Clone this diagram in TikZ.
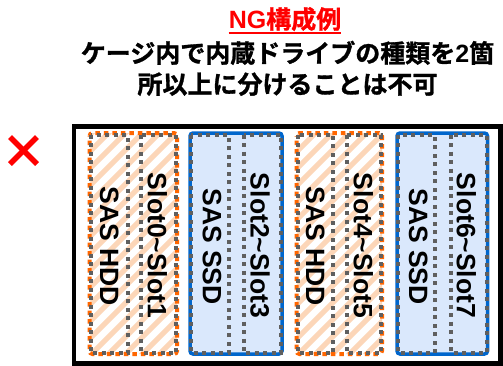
\documentclass[tikz,border=0pt]{standalone}
\usepackage{fontspec}
\setmainfont{Liberation Sans}
\newfontfamily\lat{Liberation Sans}
\newfontfamily\jpfont{Noto Sans CJK JP Bold}[FakeBold=1.2]
\definecolor{slotgray}{RGB}{95,95,95}
\definecolor{hddorange}{RGB}{255,102,0}
\definecolor{hatchcol}{RGB}{252,214,184}
\definecolor{ssdblue}{RGB}{0,102,204}
\definecolor{ssdfill}{RGB}{218,232,252}
\begin{document}
\begin{tikzpicture}[x=1bp,y=-1bp,
  slotbox/.style={draw=slotgray, line width=4bp, dash pattern=on 4bp off 4.5bp},
  hddbox/.style={draw=hddorange, line width=4bp, dash pattern=on 4.5bp off 4bp, dash phase=4bp, rounded corners=3bp},
  ssdbox/.style={draw=ssdblue, fill=ssdfill, line width=3.5bp, rounded corners=3bp},
  hatch/.style={draw=hatchcol, line width=5bp},
  lbl/.style={font=\fontsize{26.5bp}{30bp}\selectfont\bfseries, rotate=-90, inner sep=0pt},
  jptxt/.style={font=\fontsize{25bp}{30bp}\selectfont\jpfont, anchor=base, inner sep=0pt}
]
\useasboundingbox (0,0) rectangle (503,365);
\fill[white] (0,0) rectangle (503,365);

% title
\node[jptxt, text=red] (title) at (285,28.5) {{\lat\bfseries NG}構成例};
\draw[red, line width=2bp] ([yshift=-4.5bp]title.base west) -- ([yshift=-4.5bp]title.base east);
\node[jptxt] (line2) at (287.5,62.5) {ケージ内で内蔵ドライブの種類を{\lat\bfseries 2}箇};
\node[jptxt] (line3) at (287.5,93.5) {所以上に分けることは不可};

% red cross
\draw[red, line width=5.5bp] (10,137) -- (37,164);
\draw[red, line width=5.5bp] (37,137) -- (10,164);

% outer cage
\draw[line width=4.5bp] (74,126.5) rectangle (500.5,363.5);

% HDD groups
\foreach \L/\A/\B/\R/\s/\e/\i in {89.5/128/141/177/0/1/1, 296.5/333/346.5/382/4/5/3} {
  \begin{scope}
    \clip[rounded corners=3bp] (\L,133) rectangle (\R,354);
    \foreach \k in {-15,...,6} \draw[hatch] ({\L+\k*17},356) -- ++(230,-230);
  \end{scope}
  \draw[hddbox] (\L,133) rectangle (\R,354);
  \draw[slotbox] (\L+1,134.5) rectangle (\A,353);
  \draw[slotbox] (\B,134.5) rectangle (\R-1,353);
  \node[lbl] (slots\i) at ({(\L+\R)/2+24},245.5) {Slot\s\textasciitilde Slot\e};
  \node[lbl] (kind\i) at ({(\L+\R)/2-24},246.5) {SAS HDD};
}

% SSD groups
\foreach \L/\A/\B/\R/\s/\e/\i in {190/228.5/243.5/282/2/3/2, 397/434.5/451/487.5/6/7/4} {
  \draw[ssdbox] (\L,133) rectangle (\R,354);
  \draw[slotbox] (\L+1,134.5) rectangle (\A,353);
  \draw[slotbox] (\B,134.5) rectangle (\R-1,353);
  \node[lbl] (slots\i) at ({(\L+\R)/2+24},245.5) {Slot\s\textasciitilde Slot\e};
  \node[lbl] (kind\i) at ({(\L+\R)/2-24},246.5) {SAS SSD};
}
\end{tikzpicture}
\end{document}
